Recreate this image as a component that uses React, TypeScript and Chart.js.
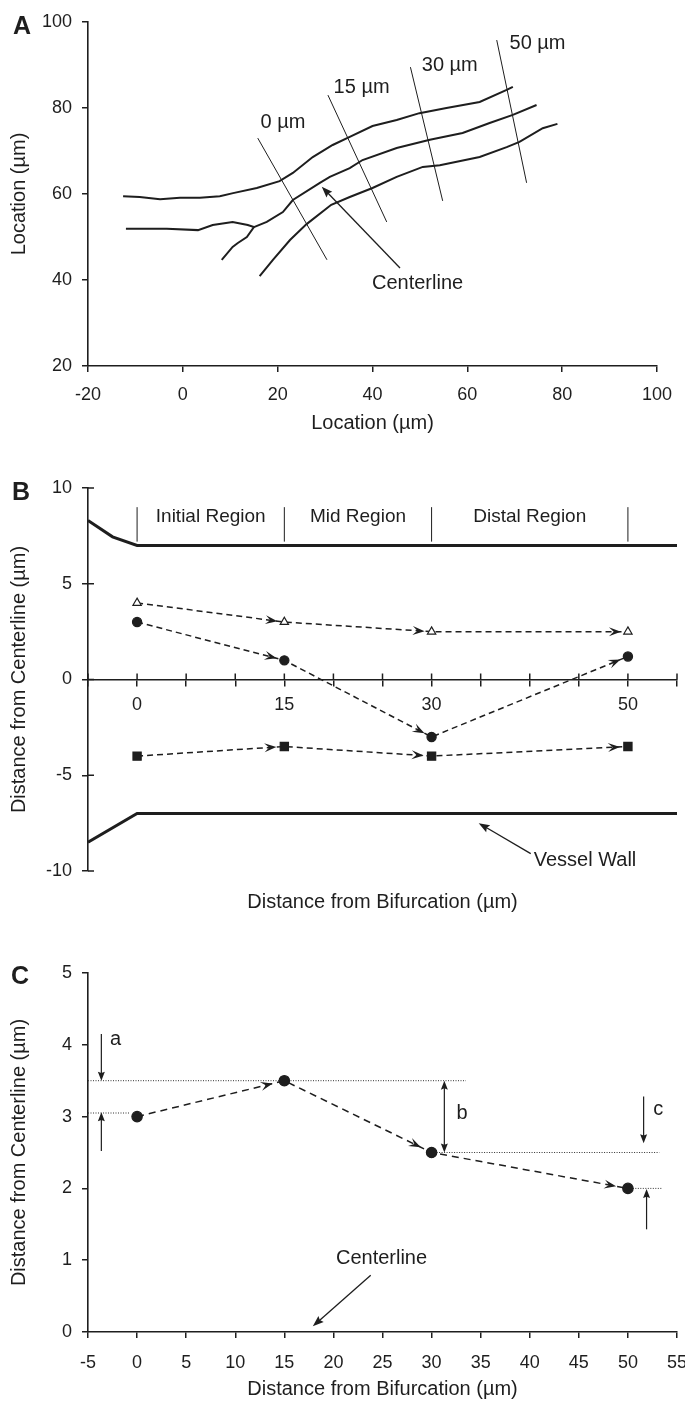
import React, { useEffect, useRef } from "react";
import { Chart, registerables } from "chart.js";

Chart.register(...registerables);

const INK = "#1e1e1e";
const FONT = '"Liberation Sans", Arial, Helvetica, sans-serif';

// ---------------- Panel A : traced vessel (Location, µm) ----------------
const aUpperWall = [
  [-12.6, 59.5], [-9.1, 59.3], [-4.8, 58.8], [-0.6, 59.1], [3.6, 59.1], [7.8, 59.5],
  [10.6, 60.2], [15.6, 61.4], [20.4, 63.0], [23.2, 64.9], [27.4, 68.6], [31.6, 71.4],
  [35.2, 73.3], [40.0, 75.8], [45.1, 77.2], [49.9, 78.8], [55.6, 80.0], [62.6, 81.4],
  [68.3, 84.2], [69.6, 84.9],
];
const aLowerLeftWall = [
  [-12.0, 51.9], [-3.4, 51.9], [3.2, 51.6], [6.3, 52.8], [10.5, 53.5], [13.7, 52.8],
  [15.0, 52.3], [13.5, 50.0], [11.6, 48.6], [10.5, 47.7], [8.2, 44.7],
];
const aCenterline = [
  [15.0, 52.3], [17.7, 53.5], [21.1, 55.8], [23.2, 58.6], [28.9, 62.6], [31.0, 64.0],
  [35.2, 66.0], [37.9, 67.9], [45.1, 70.7], [52.1, 72.6], [59.0, 74.2], [64.7, 76.5],
  [69.6, 78.4], [74.6, 80.7],
];
const aLowerWall = [
  [16.2, 40.9], [19.0, 44.7], [22.6, 49.3], [26.1, 53.0], [31.3, 57.5], [35.2, 59.3],
  [40.0, 61.4], [45.1, 64.0], [50.6, 66.3], [54.2, 66.7], [62.6, 68.6], [68.3, 70.9],
  [71.0, 72.1], [75.9, 75.3], [79.0, 76.3],
];
const aCut0 = [[15.8, 73.0], [30.4, 44.7]];
const aCut15 = [[30.6, 83.0], [43.0, 53.5]];
const aCut30 = [[48.0, 89.5], [54.8, 58.4]];
const aCut50 = [[66.2, 95.8], [72.5, 62.6]];
const aCutLabels = ["0 µm", "15 µm", "30 µm", "50 µm"];
const aCutLabelAt = [[21.1, 76.7], [37.7, 84.7], [56.3, 90.0], [74.8, 95.1]];
const aCenterlineNote = { text: "Centerline", at: [49.5, 39.3], from: [45.8, 42.8], to: [29.3, 61.7] };

// ---------------- Panel B : distance from centerline ----------------
const bDistance = [0, 15, 30, 50];
const bTriangle = [4, 3, 2.5, 2.5];
const bCircle = [3, 1, -3, 1.2];
const bSquare = [-4, -3.5, -4, -3.5];
const bUpperWall = [[-5, 8.3], [-2.5, 7.45], [0, 7], [55, 7]];
const bLowerWall = [[-5, -8.5], [0, -7], [55, -7]];
const bRegionBounds = [0, 15, 30, 50];
const bRegionNames = ["Initial Region", "Mid Region", "Distal Region"];
const bXLabelled = [0, 15, 30, 50];
const bWallNote = { text: "Vessel Wall", at: [40.4, -9.43], from: [40.1, -9.09], to: [34.8, -7.5] };

// ---------------- Panel C : single particle ----------------
const cDistance = [0, 15, 30, 50];
const cCircle = [3, 3.5, 2.5, 2];
const cRefA = [[-5, 3.5], [33.5, 3.5]];
const cRefStart = [[-5, 3.05], [-0.8, 3.05]];
const cRefB = [[30, 2.5], [53.2, 2.5]];
const cRefC = [[50.5, 2], [53.5, 2]];

const toXY = (p: number[][]) => p.map(([x, y]) => ({ x, y }));
const zipXY = (xs: number[], ys: number[]) => xs.map((x, i) => ({ x, y: ys[i] }));

function head(ctx: CanvasRenderingContext2D, tx: number, ty: number, ux: number, uy: number, L: number, W: number, notch: number) {
  const px = -uy, py = ux;
  ctx.beginPath();
  ctx.moveTo(tx, ty);
  ctx.lineTo(tx - ux * L + px * W / 2, ty - uy * L + py * W / 2);
  ctx.lineTo(tx - ux * L * notch, ty - uy * L * notch);
  ctx.lineTo(tx - ux * L - px * W / 2, ty - uy * L - py * W / 2);
  ctx.closePath();
  ctx.fill();
}

function makeNotes(items: any[], letter: { text: string; px: number; py: number }, crossTicks = false) {
  return {
    id: "notes",
    afterDatasetsDraw(chart: any) {
      const ctx: CanvasRenderingContext2D = chart.ctx;
      const xs = chart.scales.x, ys = chart.scales.y;
      const X = (v: number) => xs.getPixelForValue(v);
      const Y = (v: number) => ys.getPixelForValue(v);
      ctx.save();
      ctx.fillStyle = INK;
      ctx.strokeStyle = INK;
      ctx.setLineDash([]);
      // arrowheads on dashed trajectories
      chart.data.datasets.forEach((ds: any, i: number) => {
        if (!ds.arrowGap) return;
        const pts = chart.getDatasetMeta(i).data;
        for (let k = 1; k < pts.length; k++) {
          const a = pts[k - 1], b = pts[k];
          const dx = b.x - a.x, dy = b.y - a.y, len = Math.hypot(dx, dy);
          const ux = dx / len, uy = dy / len;
          head(ctx, b.x - ux * ds.arrowGap, b.y - uy * ds.arrowGap, ux, uy, 12, 9, 0.6);
        }
      });
      if (crossTicks) {
        ctx.lineWidth = 1.5;
        ctx.beginPath();
        const y0 = Y(0);
        xs.ticks.forEach((t: any) => { const p = X(t.value); ctx.moveTo(p, y0); ctx.lineTo(p, y0 - 6); });
        const x0 = chart.chartArea.left;
        ys.ticks.forEach((t: any) => { const p = Y(t.value); ctx.moveTo(x0, p); ctx.lineTo(x0 + 6, p); });
        ctx.stroke();
      }
      items.forEach((it: any) => {
        if (it.kind === "text") {
          ctx.font = `${it.size || 20}px ${FONT}`;
          ctx.textAlign = it.align || "center";
          ctx.textBaseline = "middle";
          ctx.fillText(it.text, X(it.x), Y(it.y));
        } else if (it.kind === "line") {
          ctx.lineWidth = it.width || 1;
          ctx.beginPath();
          ctx.moveTo(X(it.x1), Y(it.y1));
          ctx.lineTo(X(it.x2), Y(it.y2));
          ctx.stroke();
        } else if (it.kind === "arrow") {
          const x1 = X(it.x1), y1 = Y(it.y1), x2 = X(it.x2), y2 = Y(it.y2);
          const dx = x2 - x1, dy = y2 - y1, len = Math.hypot(dx, dy);
          const ux = dx / len, uy = dy / len;
          const L = it.L || 9, W = it.W || 6;
          ctx.lineWidth = it.width || 1.2;
          ctx.beginPath();
          ctx.moveTo(it.both ? x1 + ux * L * 0.7 : x1, it.both ? y1 + uy * L * 0.7 : y1);
          ctx.lineTo(x2 - ux * L * 0.7, y2 - uy * L * 0.7);
          ctx.stroke();
          head(ctx, x2, y2, ux, uy, L, W, 0.85);
          if (it.both) head(ctx, x1, y1, -ux, -uy, L, W, 0.85);
        }
      });
      ctx.font = `bold 25px ${FONT}`;
      ctx.textAlign = "center";
      ctx.textBaseline = "middle";
      ctx.fillText(letter.text, letter.px, letter.py);
      ctx.restore();
    },
  };
}

function xAxis(o: any) {
  const ticks: any = {
    stepSize: o.step, padding: o.tickPad, color: INK, font: { size: 18, family: FONT },
    maxRotation: 0, autoSkip: false,
  };
  if (o.callback) ticks.callback = o.callback;
  return {
    type: "linear", position: o.position || "bottom", min: o.min, max: o.max,
    ticks,
    grid: { drawOnChartArea: false, tickLength: 6, color: INK, lineWidth: 1.5 },
    border: { color: INK, width: 1.6 },
    title: o.title
      ? { display: true, text: o.title, color: INK, font: { size: 20, family: FONT }, padding: { top: 0, bottom: o.titlePad } }
      : { display: false },
    afterFit: (s: any) => {
      if (o.height != null) s.height = o.height;
      s.paddingLeft = 0;
      s.paddingRight = 0;
    },
  };
}

function yAxis(o: any) {
  return {
    type: "linear", position: "left", min: o.min, max: o.max,
    ticks: { stepSize: o.step, padding: 10, color: INK, font: { size: 18, family: FONT }, autoSkip: false },
    grid: { drawOnChartArea: false, tickLength: 6, color: INK, lineWidth: 1.5 },
    border: { color: INK, width: 1.6 },
    title: { display: true, text: o.title, color: INK, font: { size: 20, family: FONT }, padding: { top: 7, bottom: 0 } },
    afterFit: (s: any) => { s.width = 88; },
  };
}

const line = (pts: number[][], w: number, dash: number[] = [], color = INK) => ({
  data: toXY(pts), showLine: true, borderColor: color, borderWidth: w, borderDash: dash,
  pointRadius: 0, tension: 0, fill: false, xAxisID: "x", yAxisID: "y",
});

const series = (xs: number[], ys: number[], style: string, r: number, bg: string, gap: number, dash: number[]) => ({
  data: zipXY(xs, ys), showLine: true, borderColor: INK, borderWidth: 1.5, borderDash: dash,
  pointStyle: style, pointRadius: r, pointBackgroundColor: bg, pointBorderColor: INK, pointBorderWidth: 1.2,
  tension: 0, fill: false, arrowGap: gap, xAxisID: "x", yAxisID: "y",
});

const common = (padTop: number, padRight: number) => ({
  responsive: false,
  animation: false,
  events: [],
  layout: { padding: { top: padTop, right: padRight, left: 0, bottom: 0 } },
  plugins: { legend: { display: false }, tooltip: { enabled: false } },
});

function configA(): any {
  const items: any[] = [];
  aCutLabels.forEach((t, i) => items.push({ kind: "text", text: t, x: aCutLabelAt[i][0], y: aCutLabelAt[i][1] }));
  items.push({ kind: "text", text: aCenterlineNote.text, x: aCenterlineNote.at[0], y: aCenterlineNote.at[1] });
  items.push({ kind: "arrow", x1: aCenterlineNote.from[0], y1: aCenterlineNote.from[1], x2: aCenterlineNote.to[0], y2: aCenterlineNote.to[1], L: 11, W: 8, width: 1.3 });
  return {
    type: "scatter",
    data: {
      datasets: [
        line(aUpperWall, 2), line(aLowerLeftWall, 2), line(aCenterline, 2), line(aLowerWall, 2),
        line(aCut0, 1), line(aCut15, 1), line(aCut30, 1), line(aCut50, 1),
      ],
    },
    options: {
      ...common(22, 28),
      scales: {
        x: xAxis({ min: -20, max: 100, step: 20, tickPad: 12, height: 84, title: "Location (µm)", titlePad: 15 }),
        y: yAxis({ min: 20, max: 100, step: 20, title: "Location (µm)" }),
      },
    },
    plugins: [makeNotes(items, { text: "A", px: 22, py: 27 })],
  };
}

function configB(): any {
  const items: any[] = [];
  bRegionBounds.forEach((b) => items.push({ kind: "line", x1: b, y1: 7.2, x2: b, y2: 9.0, width: 1 }));
  bRegionNames.forEach((n, i) =>
    items.push({ kind: "text", text: n, size: 19, x: (bRegionBounds[i] + bRegionBounds[i + 1]) / 2, y: 8.5 })
  );
  items.push({ kind: "text", text: bWallNote.text, align: "left", x: bWallNote.at[0], y: bWallNote.at[1] });
  items.push({ kind: "arrow", x1: bWallNote.from[0], y1: bWallNote.from[1], x2: bWallNote.to[0], y2: bWallNote.to[1], L: 11, W: 8, width: 1.3 });
  return {
    type: "scatter",
    data: {
      datasets: [
        series(bDistance, bTriangle, "triangle", 4.8, "#ffffff", 7, [6, 4]),
        series(bDistance, bCircle, "circle", 4.6, INK, 8, [6, 4]),
        series(bDistance, bSquare, "rect", 5.8, INK, 8, [6, 4]),
        line(bUpperWall, 3),
        line(bLowerWall, 3),
      ],
    },
    options: {
      ...common(38, 8),
      scales: {
        x: xAxis({
          min: -5, max: 55, step: 5, tickPad: 9, position: { y: 0 },
          callback: (v: number) => (bXLabelled.includes(v) ? String(v) : ""),
        }),
        xt: {
          type: "linear", position: "bottom", min: -5, max: 55,
          ticks: { display: false }, grid: { display: false }, border: { display: false },
          title: { display: true, text: "Distance from Bifurcation (µm)", color: INK, font: { size: 20, family: FONT }, padding: { top: 0, bottom: 6 } },
          afterFit: (s: any) => { s.height = 49; s.paddingLeft = 0; s.paddingRight = 0; },
        },
        y: yAxis({ min: -10, max: 10, step: 5, title: "Distance from Centerline (µm)" }),
      },
    },
    plugins: [makeNotes(items, { text: "B", px: 21, py: 43 }, true)],
  };
}

function configC(): any {
  const items: any[] = [
    { kind: "text", text: "a", x: -2.2, y: 4.07 },
    { kind: "arrow", x1: -3.64, y1: 4.15, x2: -3.64, y2: 3.5, L: 9, W: 7 },
    { kind: "arrow", x1: -3.64, y1: 2.52, x2: -3.64, y2: 3.06, L: 9, W: 7 },
    { kind: "text", text: "b", x: 33.1, y: 3.05 },
    { kind: "arrow", x1: 31.3, y1: 2.5, x2: 31.3, y2: 3.5, L: 9, W: 7, both: true },
    { kind: "text", text: "c", x: 53.1, y: 3.1 },
    { kind: "arrow", x1: 51.6, y1: 3.28, x2: 51.6, y2: 2.63, L: 9, W: 7 },
    { kind: "arrow", x1: 51.9, y1: 1.43, x2: 51.9, y2: 1.99, L: 9, W: 7 },
    { kind: "text", text: "Centerline", x: 24.9, y: 1.03 },
    { kind: "arrow", x1: 23.8, y1: 0.79, x2: 17.9, y2: 0.08, L: 11, W: 8, width: 1.3 },
  ];
  return {
    type: "scatter",
    data: {
      datasets: [
        series(cDistance, cCircle, "circle", 5.2, INK, 12, [7, 5]),
        line(cRefA, 1, [1, 1.5], "#333"),
        line(cRefStart, 1, [1, 1.5], "#333"),
        line(cRefB, 1, [1, 1.5], "#333"),
        line(cRefC, 1, [1, 1.5], "#333"),
      ],
    },
    options: {
      ...common(53, 8),
      scales: {
        x: xAxis({ min: -5, max: 55, step: 5, tickPad: 14, height: 72, title: "Distance from Bifurcation (µm)", titlePad: 3 }),
        y: yAxis({ min: 0, max: 5, step: 1, title: "Distance from Centerline (µm)" }),
      },
    },
    plugins: [makeNotes(items, { text: "C", px: 20, py: 57 })],
  };
}

function Panel({ top, height, make }: { top: number; height: number; make: () => any }) {
  const ref = useRef<HTMLCanvasElement>(null);
  useEffect(() => {
    const chart = new Chart(ref.current as HTMLCanvasElement, make());
    return () => chart.destroy();
  }, []);
  return (
    <canvas
      ref={ref}
      width={685}
      height={height}
      style={{ position: "absolute", left: 0, top, width: 685, height }}
    />
  );
}

export default function App() {
  return (
    <div style={{ position: "absolute", left: 0, top: 0, width: 685, height: 1404, background: "#fff" }}>
      <Panel top={0} height={450} make={configA} />
      <Panel top={450} height={470} make={configB} />
      <Panel top={920} height={484} make={configC} />
    </div>
  );
}
